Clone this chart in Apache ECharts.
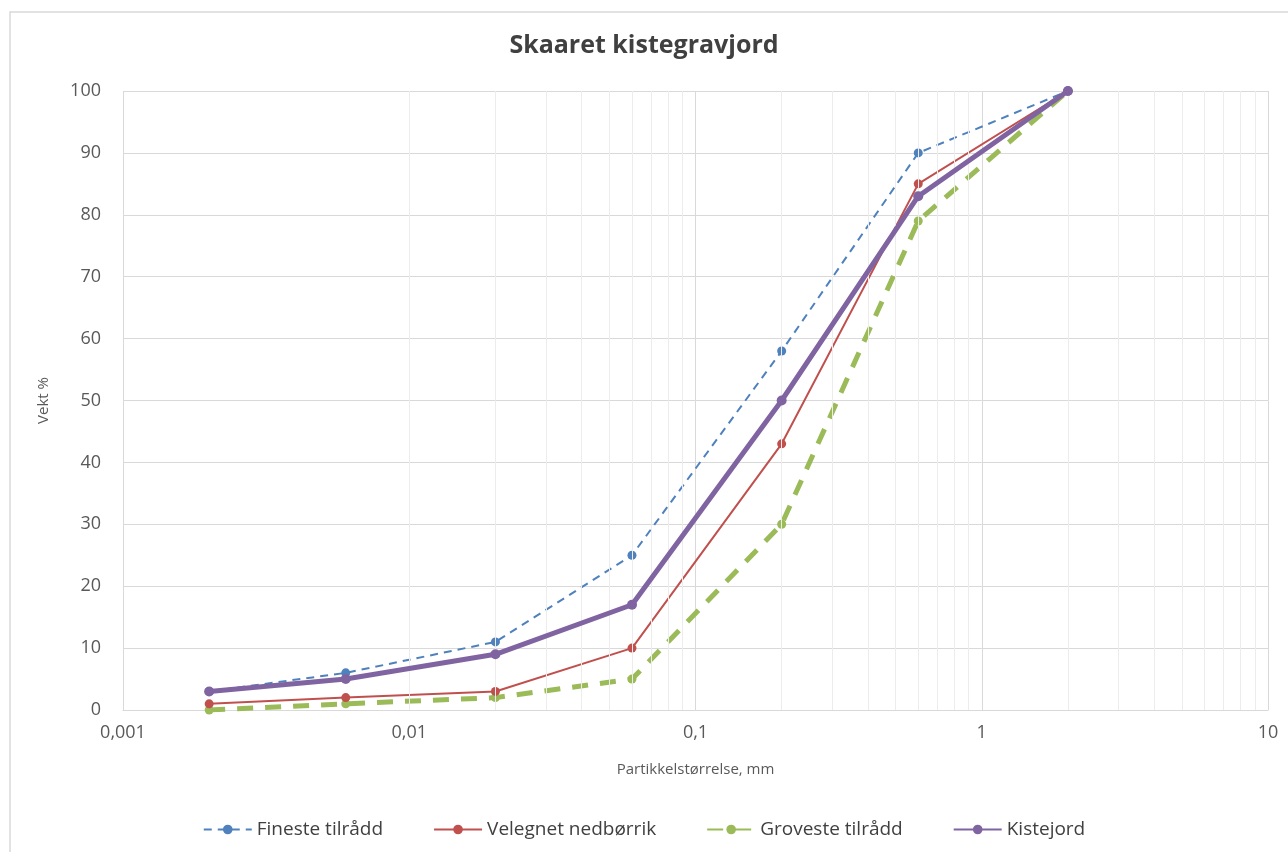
<!DOCTYPE html>
<html><head><meta charset="utf-8">
<script src="https://cdn.jsdelivr.net/npm/echarts@6/dist/echarts.min.js"></script>
<style>html,body{margin:0;padding:0;background:#fff}#c{width:1288px;height:852px}</style>
</head><body><div id="c"></div>
<script>
const sizes = [0.002, 0.006, 0.02, 0.06, 0.2, 0.6, 2];
const fineste = [3, 6, 11, 25, 58, 90, 100];
const velegnet = [1, 2, 3, 10, 43, 85, 100];
const groveste = [0, 1, 2, 5, 30, 79, 100];
const kistejord = [3, 5, 9, 17, 50, 83, 100];
const minorGrid = [0.002,0.003,0.004,0.005,0.006,0.007,0.008,0.009,
  0.02,0.03,0.04,0.05,0.06,0.07,0.08,0.09,
  0.2,0.3,0.4,0.5,0.6,0.7,0.8,0.9,
  2,3,4,5,6,7,8,9];
const FONT = 'Open Sans';
const pairs = a => sizes.map((x,i)=>[x,a[i]]);
const chart = echarts.init(document.getElementById('c'));
chart.setOption({
  animation:false,
  textStyle:{fontFamily:FONT},
  graphic:[{type:'rect',shape:{x:10,y:12,width:1290,height:850},style:{fill:null,stroke:'#d9d9d9',lineWidth:1.5},silent:true}],
  title:{text:'Skaaret kistegravjord',left:'center',top:28,textStyle:{fontFamily:FONT,fontWeight:'bold',fontSize:25,color:'#404040'}},
  grid:{left:123,right:20,top:91,bottom:142},
  legend:{bottom:8,left:'center',itemGap:50,itemWidth:48,itemHeight:12,textStyle:{fontSize:19,color:'#404040'},
    data:['Fineste tilrådd','Velegnet nedbørrik','Groveste tilrådd','Kistejord']},
  xAxis:{type:'log',logBase:10,min:0.001,max:10,name:'Partikkelstørrelse, mm',nameLocation:'middle',nameGap:52,
    nameTextStyle:{fontSize:15,color:'#595959'},
    axisLine:{show:true,lineStyle:{color:'#d9d9d9'}},axisTick:{show:false},
    axisLabel:{fontSize:18,color:'#595959',margin:14,formatter:v=>String(+v.toPrecision(3)).replace('.',',')},
    splitLine:{show:true,lineStyle:{color:'#d9d9d9',width:1}}},
  yAxis:{type:'value',min:0,max:100,interval:10,name:'Vekt %',nameLocation:'middle',nameGap:72,
    nameTextStyle:{fontSize:15,color:'#595959'},
    axisLine:{show:false},axisTick:{show:false},
    axisLabel:{fontSize:18,color:'#595959',margin:22},
    splitLine:{lineStyle:{color:'#d9d9d9',width:1}}},
  series:[
    {name:'Fineste tilrådd',type:'line',data:pairs(fineste),symbol:'circle',symbolSize:9,z:3,
      itemStyle:{color:'#4F81BD'},lineStyle:{color:'#4F81BD',width:2,type:[8,6]},
      markLine:{silent:true,symbol:'none',label:{show:false},animation:false,
        lineStyle:{color:'#ececec',width:1,type:'solid'},data:minorGrid.map(v=>({xAxis:v}))}},
    {name:'Velegnet nedbørrik',type:'line',data:pairs(velegnet),symbol:'circle',symbolSize:9,z:4,
      itemStyle:{color:'#C0504D'},lineStyle:{color:'#C0504D',width:2}},
    {name:'Groveste tilrådd',type:'line',data:pairs(groveste),symbol:'circle',symbolSize:9,z:2,
      itemStyle:{color:'#9BBB59'},lineStyle:{color:'#9BBB59',width:5,type:[16,12]}},
    {name:'Kistejord',type:'line',data:pairs(kistejord),symbol:'circle',symbolSize:10,z:5,
      itemStyle:{color:'#8064A2'},lineStyle:{color:'#8064A2',width:5}}
  ]
});
</script></body></html>
